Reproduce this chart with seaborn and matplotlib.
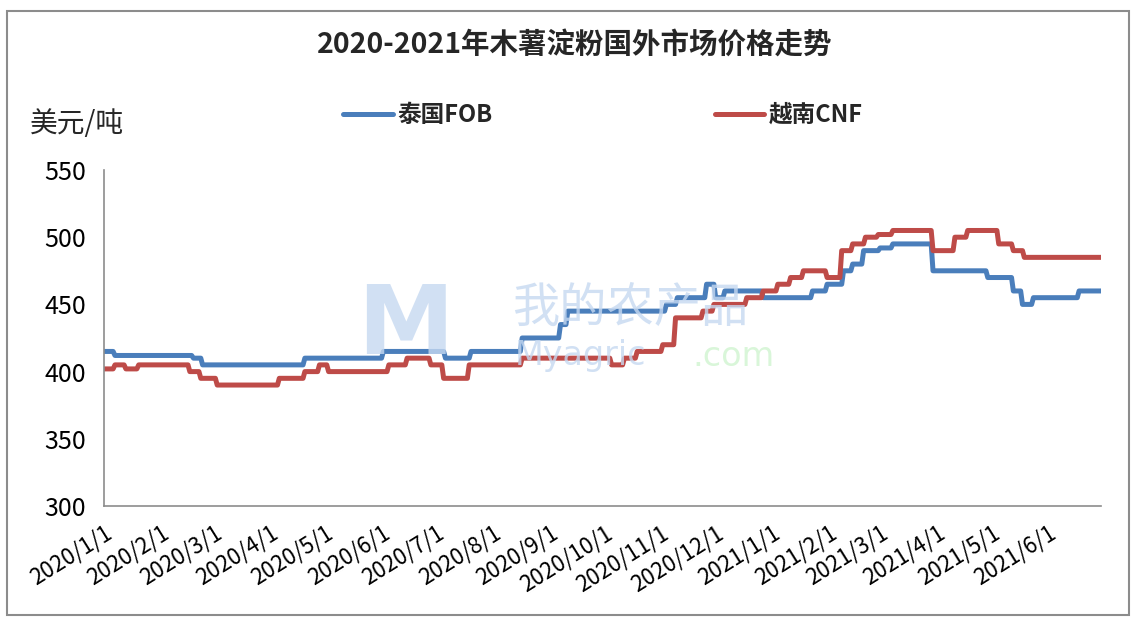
import matplotlib
matplotlib.use('Agg')
import matplotlib.pyplot as plt
from matplotlib.patches import Rectangle
import seaborn as sns
import pandas as pd

# ---- data (change points of the step series) ----
thai_dates = ['2020-01-01', '2020-01-07', '2020-02-19', '2020-02-24', '2020-04-20',
              '2020-06-02', '2020-07-06', '2020-07-20', '2020-08-17', '2020-09-07',
              '2020-09-11', '2020-11-04', '2020-11-10', '2020-11-26', '2020-12-01',
              '2020-12-06', '2020-12-27', '2021-01-23', '2021-01-31', '2021-02-09',
              '2021-02-14', '2021-02-20', '2021-03-01', '2021-03-08', '2021-03-30',
              '2021-04-29', '2021-05-13', '2021-05-18', '2021-05-24', '2021-06-18']
thai_prices = [415, 412, 410, 405, 410,
               415, 410, 415, 425, 435,
               445, 450, 455, 465, 455,
               460, 455, 460, 465, 475,
               480, 490, 492, 495, 475,
               470, 460, 450, 455, 460]

vn_dates = ['2020-01-01', '2020-01-07', '2020-01-13', '2020-01-20', '2020-02-17',
            '2020-02-23', '2020-03-03', '2020-04-06', '2020-04-20', '2020-04-28',
            '2020-05-03', '2020-06-05', '2020-06-15', '2020-06-28', '2020-07-05',
            '2020-07-19', '2020-08-17', '2020-10-05', '2020-10-12', '2020-10-19',
            '2020-11-02', '2020-11-09', '2020-11-24', '2020-11-30', '2020-12-18',
            '2020-12-27', '2021-01-04', '2021-01-11', '2021-01-18', '2021-01-31',
            '2021-02-08', '2021-02-14', '2021-02-21', '2021-02-28', '2021-03-08',
            '2021-03-30', '2021-04-11', '2021-04-18', '2021-05-05', '2021-05-13',
            '2021-05-19']
vn_prices = [402, 405, 402, 405, 400,
             395, 390, 395, 400, 405,
             400, 405, 410, 405, 395,
             405, 410, 405, 410, 415,
             420, 440, 445, 450, 455,
             460, 465, 470, 475, 470,
             490, 495, 500, 502, 505,
             490, 500, 505, 495, 490,
             485]

end_date = '2021-06-30'
series_names = ['泰国FOB', '越南CNF']
series_colors = ['#4A7EBB', '#BE4B48']
tick_dates = pd.date_range('2020-01-01', '2021-06-01', freq='MS')
tick_labels = [f'{d.year}/{d.month}/1' for d in tick_dates]
y_ticks = [300, 350, 400, 450, 500, 550]


def daily(dates, prices, name):
    s = pd.Series(prices, index=pd.to_datetime(dates))
    idx = pd.date_range(dates[0], end_date, freq='D')
    s = s.reindex(idx).ffill()
    return pd.DataFrame({'date': idx, 'price': s.values, 'series': name})


df = pd.concat([daily(thai_dates, thai_prices, series_names[0]),
                daily(vn_dates, vn_prices, series_names[1])], ignore_index=True)

sns.set_theme(style='white')
plt.rcParams['font.family'] = ['Noto Sans CJK SC', 'DejaVu Sans']
plt.rcParams['axes.unicode_minus'] = False

fig = plt.figure(figsize=(11.4, 6.23), dpi=100)
ax = fig.add_axes([104 / 1140, 1 - 506 / 623, (1101 - 104) / 1140, (506 - 170) / 623])

# outer frame
fig.patches.append(Rectangle((7 / 1140, 8 / 623), 1122 / 1140, 604 / 623,
                             transform=fig.transFigure, fill=False,
                             edgecolor='#8c8c8c', linewidth=1.5))

# watermark
fig.text(405 / 1140, 1 - 328 / 623, 'M', fontsize=70, fontweight='bold',
         color='#c6d9f1', alpha=0.8, ha='center', va='center', zorder=0,
         family=['DejaVu Sans'])
fig.text(512 / 1140, 1 - 309 / 623, '我的农产品', fontsize=34, color='#c6d9f1',
         alpha=0.8, ha='left', va='center', zorder=0)
fig.text(515 / 1140, 1 - 356 / 623, 'Myagric', fontsize=24, color='#c6d9f1',
         alpha=0.8, ha='left', va='center', zorder=0, family=['DejaVu Sans'])
fig.text(692 / 1140, 1 - 356 / 623, '.com', fontsize=24, color='#d5f5d5',
         alpha=0.9, ha='left', va='center', zorder=0, family=['DejaVu Sans'])

sns.lineplot(data=df, x='date', y='price', hue='series', hue_order=series_names,
             palette=series_colors, linewidth=3.6, ax=ax, legend=True)
ax.patch.set_alpha(0)

ax.set_xlim(pd.Timestamp('2020-01-01'), pd.Timestamp(end_date))
ax.set_ylim(300, 550)
ax.set_yticks(y_ticks)
ax.set_yticklabels([str(v) for v in y_ticks], fontsize=18)
ax.set_xticks(list(tick_dates) + [pd.Timestamp(end_date)])
ax.set_xticklabels(tick_labels + [''], fontsize=16, rotation=32,
                   ha='right', rotation_mode='anchor')
ax.set_xlabel('')
ax.set_ylabel('')
for s in ['top', 'right']:
    ax.spines[s].set_visible(False)
for s in ['left', 'bottom']:
    ax.spines[s].set_color('#8c8c8c')
    ax.spines[s].set_linewidth(1.2)
ax.tick_params(axis='both', which='major', direction='out', length=7,
               color='#8c8c8c', width=1.2, labelcolor='#000000')
ax.tick_params(axis='y', pad=6)
ax.tick_params(axis='x', pad=4)
ax.grid(False)

handles, labels = ax.get_legend_handles_labels()
ax.legend(handles, labels, loc='center', bbox_to_anchor=(603 / 1140, 1 - 115 / 623),
          bbox_transform=fig.transFigure, ncol=2, frameon=False,
          prop={'size': 17, 'weight': 'bold'}, handlelength=2.1,
          handletextpad=0.2, columnspacing=9.4)

fig.text(30 / 1140, 1 - 124 / 623, '美元/吨', fontsize=20, ha='left', va='center')
fig.text(575 / 1140, 1 - 45 / 623, '2020-2021年木薯淀粉国外市场价格走势',
         fontsize=20.5, fontweight='bold', ha='center', va='center')

fig.savefig('out.png', dpi=100)
